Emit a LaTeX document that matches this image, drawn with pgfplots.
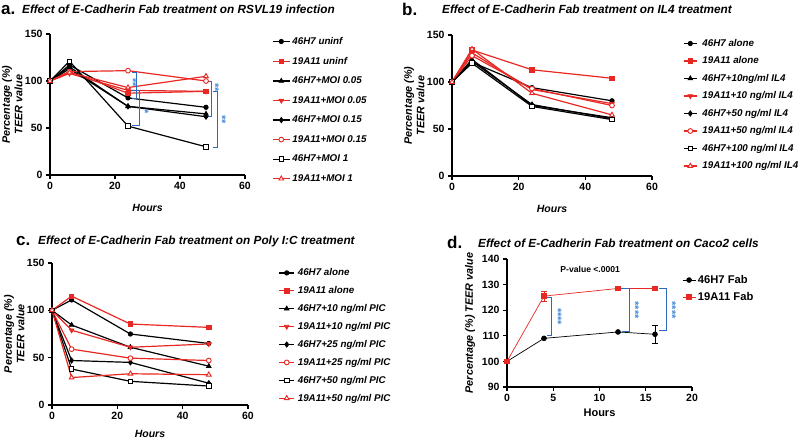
\documentclass[border=0pt]{standalone}
\usepackage{fontspec}
\setmainfont{Liberation Sans}
\usepackage{pgfplots}
\pgfplotsset{compat=1.18}
\definecolor{gred}{RGB}{232,40,35}
\definecolor{gblue}{RGB}{45,105,190}
\definecolor{sblue}{RGB}{70,140,215}
\pgfplotsset{
  leglen/.style={legend image code/.code={\draw[mark repeat=2,mark phase=2] plot coordinates {(0pt,0pt)(#1,0pt)(2*#1,0pt)};}},
  gp/.style={
    scale only axis, axis lines=left, axis line style={-, line width=1.1pt},
    every tick/.style={black, line width=1.1pt}, tick align=outside, major tick length=4pt,
    /pgf/number format/assume math mode=true,
    ticklabel style={font=\fontsize{10.5}{12}\selectfont\bfseries},
    xlabel style={font=\fontsize{10.5}{12}\selectfont\bfseries\itshape},
    ylabel style={font=\fontsize{10.8}{12.5}\selectfont\bfseries\itshape},
    clip=false,
    legend style={draw=none, fill=none, font=\fontsize{9.8}{12}\selectfont\bfseries\itshape, row sep=7.2pt, anchor=north west},
    legend cell align=left,
    every axis plot/.append style={line width=1.2pt},
  },
  s1/.style={black, mark=*, mark size=2.2pt, mark options={solid, line width=0.8pt}},
  s2/.style={gred, mark=square*, mark size=2.2pt, mark options={solid, line width=0.8pt}},
  s3/.style={black, mark=triangle*, mark size=2.6pt, mark options={solid, line width=0.8pt}},
  s4/.style={gred, mark=triangle*, mark size=2.6pt, mark options={solid, rotate=180, line width=0.8pt}},
  s5/.style={black, mark=diamond*, mark size=2.6pt, mark options={solid, line width=0.8pt}},
  s6/.style={gred, mark=*, mark size=2.4pt, mark options={solid, fill=white, line width=0.9pt}},
  s7/.style={black, mark=square*, mark size=2.3pt, mark options={solid, fill=white, line width=0.9pt}},
  s8/.style={gred, mark=triangle*, mark size=2.7pt, mark options={solid, fill=white, line width=0.9pt}},
}
\newcommand{\ttl}{\fontsize{11.8}{13}\selectfont\bfseries\itshape}
\newcommand{\plab}{\fontsize{17}{17}\selectfont\bfseries}
\newcommand{\stf}{\fontsize{11}{11}\selectfont\bfseries}
\begin{document}
\begin{tikzpicture}[x=1pt,y=1pt]
\path[use as bounding box] (0pt,0pt) rectangle (800pt,439pt);
% titles
\node[anchor=west, inner sep=0pt, font=\plab] at (1pt,429pt) {a.};
\node[anchor=west, inner sep=0pt, font=\ttl] at (22pt,430pt) {Effect of E-Cadherin Fab treatment on RSVL19 infection};
\node[anchor=west, inner sep=0pt, font=\plab] at (402pt,430pt) {b.};
\node[anchor=west, inner sep=0pt, font=\ttl] at (442pt,430pt) {Effect of E-Cadherin Fab treatment on IL4 treatment};
\node[anchor=west, inner sep=0pt, font=\plab] at (16pt,198pt) {c.};
\node[anchor=west, inner sep=0pt, font=\ttl] at (38pt,198pt) {Effect of E-Cadherin Fab treatment on Poly I:C treatment};
\node[anchor=west, inner sep=0pt, font=\plab] at (447pt,197pt) {d.};
\node[anchor=west, inner sep=0pt, font=\ttl] at (478pt,196pt) {Effect of E-Cadherin Fab treatment on Caco2 cells};

% ---------------- panel a
\begin{axis}[gp, at={(50pt,264pt)}, anchor=south west, width=195pt, height=141pt,
  xmin=0, xmax=60, ymin=0, ymax=150, xtick={0,20,40,60}, ytick={0,50,100,150},
  xlabel={Hours}, ylabel={Percentage (\%)\\TEER value}, ylabel style={align=center, inner sep=1pt, yshift=-2pt},
  xlabel style={yshift=-7pt}, leglen=8.5pt,
  legend style={at={(rel axis cs:1.123,1.007)}}]
\addplot[s1] coordinates {(0,100)(6,117)(24,82)(48,72)};
\addplot[s2] coordinates {(0,100)(6,110)(24,87)(48,89)};
\addplot[s3] coordinates {(0,100)(6,115)(24,73)(48,65)};
\addplot[s4] coordinates {(0,100)(6,108)(24,90)(48,89)};
\addplot[s5] coordinates {(0,100)(6,113)(24,73)(48,62)};
\addplot[s6] coordinates {(0,100)(6,110)(24,111)(48,100)};
\addplot[s7] coordinates {(0,100)(6,121)(24,52)(48,30)};
\addplot[s8] coordinates {(0,100)(6,109)(24,93)(48,105)};
\legend{46H7 uninf, 19A11 uninf, 46H7+MOI 0.05, 19A11+MOI 0.05, 46H7+MOI 0.15, 19A11+MOI 0.15, 46H7+MOI 1, 19A11+MOI 1}
\draw[gblue, line width=0.8pt] (axis cs:25.3,109) -- (axis cs:26.5,109) -- (axis cs:26.5,82) -- (axis cs:25.3,82);
\node[sblue, rotate=-90, font=\stf] at (axis cs:25.5,98) {**};
\draw[gblue, line width=0.8pt] (axis cs:25.3,90) -- (axis cs:27.4,90) -- (axis cs:27.4,53) -- (axis cs:25.3,53);
\node[sblue, rotate=-90, font=\stf] at (axis cs:29.2,67) {*};
\draw[gblue, line width=0.8pt] (axis cs:48.5,100) -- (axis cs:49.6,100) -- (axis cs:49.6,62) -- (axis cs:48.5,62);
\node[sblue, rotate=-90, font=\stf] at (axis cs:50.8,93) {**};
\draw[gblue, line width=0.8pt] (axis cs:50,89) -- (axis cs:51.6,89) -- (axis cs:51.6,29) -- (axis cs:50,29);
\node[sblue, rotate=-90, font=\stf] at (axis cs:53,59) {**};
\end{axis}

% ---------------- panel b
\begin{axis}[gp, at={(452pt,263pt)}, anchor=south west, width=200pt, height=141pt,
  xmin=0, xmax=60, ymin=0, ymax=150, xtick={0,20,40,60}, ytick={0,50,100,150},
  xlabel={Hours}, ylabel={Percentage (\%)\\TEER value}, ylabel style={align=center, inner sep=1pt, yshift=-2pt},
  xlabel style={yshift=-7pt}, leglen=6.5pt,
  legend style={at={(rel axis cs:1.14,1.0)}, row sep=4.9pt, column sep=3pt}]
\addplot[s1] coordinates {(0,100)(6,121)(24,94)(48,80)};
\addplot[s2] coordinates {(0,100)(6,134)(24,113)(48,104)};
\addplot[s3] coordinates {(0,100)(6,124)(24,75)(48,62)};
\addplot[s4] coordinates {(0,100)(6,131)(24,92)(48,77)};
\addplot[s5] coordinates {(0,100)(6,122)(24,76)(48,61)};
\addplot[s6] coordinates {(0,100)(6,128)(24,93)(48,75)};
\addplot[s7] coordinates {(0,100)(6,120)(24,74)(48,60)};
\addplot[s8] coordinates {(0,100)(6,135)(24,88)(48,65)};
\legend{46H7 alone, 19A11 alone, 46H7+10ng/ml IL4, 19A11+10 ng/ml IL4, 46H7+50 ng/ml IL4, 19A11+50 ng/ml IL4, 46H7+100 ng/ml IL4, 19A11+100 ng/ml IL4}
\end{axis}

% ---------------- panel c
\begin{axis}[gp, at={(52pt,34pt)}, anchor=south west, width=196pt, height=142pt,
  xmin=0, xmax=60, ymin=0, ymax=150, xtick={0,20,40,60}, ytick={0,50,100,150},
  xlabel={Hours}, ylabel={Percentage (\%)\\TEER value}, ylabel style={align=center, inner sep=1pt, yshift=-2pt},
  xlabel style={yshift=-3pt}, leglen=7.5pt,
  legend style={at={(rel axis cs:1.14,0.99)}, row sep=5.3pt, column sep=1pt}]
\addplot[s1] coordinates {(0,100)(6,111)(24,75)(48,65)};
\addplot[s2] coordinates {(0,100)(6,115)(24,85.5)(48,82)};
\addplot[s3] coordinates {(0,100)(6,84.5)(24,61)(48,41)};
\addplot[s4] coordinates {(0,100)(6,79)(24,61)(48,64.5)};
\addplot[s5] coordinates {(0,100)(6,47)(24,45)(48,23)};
\addplot[s6] coordinates {(0,100)(6,59)(24,49.5)(48,47)};
\addplot[s7] coordinates {(0,100)(6,38)(24,25)(48,20)};
\addplot[s8] coordinates {(0,100)(6,29)(24,33)(48,32)};
\legend{46H7 alone, 19A11 alone, 46H7+10 ng/ml PIC, 19A11+10 ng/ml PIC, 46H7+25 ng/ml PIC, 19A11+25 ng/ml PIC, 46H7+50 ng/ml PIC, 19A11+50 ng/ml PIC}
\end{axis}

% ---------------- panel d
\begin{axis}[gp, at={(507pt,52pt)}, anchor=south west, width=185pt, height=128pt,
  xmin=0, xmax=20, ymin=90, ymax=140, xtick={0,5,10,15,20}, ytick={90,100,...,140},
  xlabel={Hours}, ylabel={Percentage (\%) TEER value},
  xlabel style={font=\fontsize{11}{12}\selectfont\bfseries},
  every axis plot/.append style={line width=0.7pt}, leglen=6.5pt,
  legend style={at={(rel axis cs:0.93,0.906)}, row sep=3.5pt, font=\fontsize{11.2}{13}\selectfont\bfseries}]
\addplot[black, mark=*, mark size=2.4pt, mark options={solid},
  error bars/.cd, y dir=both, y explicit, error bar style={line width=0.7pt}, error mark options={rotate=90, mark size=3pt, line width=0.7pt}]
  coordinates {(0,100) +- (0,0) (4,109) +- (0,0) (12,111.5) +- (0,0) (16,110.6) +- (0,3.5)};
\addplot[gred, mark=square*, mark size=2.4pt, mark options={solid},
  error bars/.cd, y dir=both, y explicit, error bar style={line width=0.7pt}, error mark options={rotate=90, mark size=3pt, line width=0.7pt}]
  coordinates {(0,100) +- (0,0) (4,125.5) +- (0,2) (12,128.5) +- (0,0) (16,128.5) +- (0,0)};
\legend{46H7 Fab, 19A11 Fab}
\node[font=\fontsize{8.6}{10}\selectfont\bfseries] at (axis cs:9,135.8) {P-value <.0001};
\draw[gblue, line width=0.8pt] (axis cs:4.3,125) -- (axis cs:4.85,125) -- (axis cs:4.85,110.2) -- (axis cs:4.3,110.2);
\node[sblue, rotate=-90, font=\stf] at (axis cs:5.5,117.5) {****};
\draw[gblue, line width=0.8pt] (axis cs:12.4,128.5) -- (axis cs:13.2,128.5) -- (axis cs:13.2,111.6) -- (axis cs:12.4,111.6);
\node[sblue, rotate=-90, font=\stf] at (axis cs:13.85,120) {****};
\draw[gblue, line width=0.8pt] (axis cs:16.4,128.5) -- (axis cs:17.2,128.5) -- (axis cs:17.2,112.3) -- (axis cs:16.4,112.3);
\node[sblue, rotate=-90, font=\stf] at (axis cs:17.85,120) {****};
\end{axis}
\end{tikzpicture}
\end{document}
